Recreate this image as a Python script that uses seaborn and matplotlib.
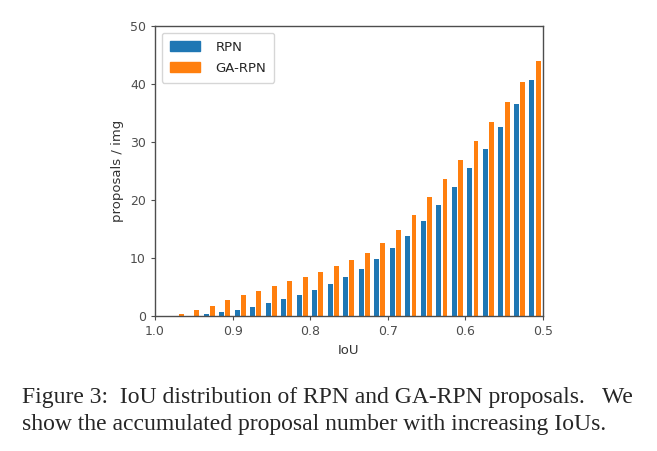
import numpy as np
import pandas as pd
import matplotlib
matplotlib.use('Agg')
import matplotlib.pyplot as plt
from matplotlib.patches import Patch
import seaborn as sns

# IoU bin centres (descending, axis is reversed)
iou = [0.97, 0.95, 0.93, 0.91, 0.89, 0.87, 0.85, 0.83, 0.81, 0.79, 0.77, 0.75,
       0.73, 0.71, 0.69, 0.67, 0.65, 0.63, 0.61, 0.59, 0.57, 0.55, 0.53, 0.51]
rpn = [0.0, 0.1, 0.3, 0.7, 1.0, 1.6, 2.2, 2.9, 3.6, 4.5, 5.5, 6.7,
       8.1, 9.8, 11.7, 13.9, 16.4, 19.1, 22.2, 25.5, 28.9, 32.6, 36.6, 40.7]
ga_rpn = [0.3, 1.0, 1.8, 2.7, 3.6, 4.4, 5.2, 6.0, 6.8, 7.6, 8.6, 9.6,
          10.9, 12.6, 14.9, 17.5, 20.6, 23.7, 26.9, 30.2, 33.5, 36.9, 40.3, 44.0]
methods = ['RPN', 'GA-RPN']
colors = {'RPN': '#1f77b4', 'GA-RPN': '#ff7f0e'}
xticks = [1.0, 0.9, 0.8, 0.7, 0.6, 0.5]
yticks = [0, 10, 20, 30, 40, 50]

df = pd.DataFrame({
    'IoU': iou * 2,
    'proposals': rpn + ga_rpn,
    'method': ['RPN'] * len(iou) + ['GA-RPN'] * len(iou),
})

sns.set_style('ticks')
plt.rcParams['font.family'] = ['DejaVu Sans']

fig = plt.figure(figsize=(6.57, 4.51), dpi=100)
ax = fig.add_axes([0.236, 0.299, 0.590, 0.643])

# GA-RPN first so RPN lands on the higher-IoU side once the axis is flipped
sns.barplot(data=df, x='IoU', y='proposals', hue='method',
            hue_order=['GA-RPN', 'RPN'], palette=colors, saturation=1,
            native_scale=True, width=0.8, gap=0.2, linewidth=0,
            legend=False, ax=ax)

ax.set_xlim(1.0, 0.5)
ax.set_ylim(0, 50)
ax.set_xticks(xticks)
ax.set_xticklabels([f'{t:.1f}' for t in xticks])
ax.set_yticks(yticks)
ax.tick_params(labelsize=9, colors='.3', length=3)
ax.set_xlabel('IoU', fontsize=9.5, color='.2')
ax.set_ylabel('proposals / img', fontsize=9.5, color='.2')
for s in ax.spines.values():
    s.set_visible(True)
    s.set_color('.3')
    s.set_linewidth(1.0)

handles = [Patch(color=colors[m], label=m) for m in methods]
ax.legend(handles=handles, loc='upper left', fontsize=9.5, handlelength=2.3,
          borderpad=0.6, labelspacing=0.6, handletextpad=1.2, frameon=True)

fig.text(0.033, 0.106, 'Figure 3:  IoU distribution of RPN and GA-RPN proposals.   We',
         fontsize=17, family=['Liberation Serif'], va='baseline')
fig.text(0.033, 0.047, 'show the accumulated proposal number with increasing IoUs.',
         fontsize=17, family=['Liberation Serif'], va='baseline')

fig.savefig('out.png', dpi=100)
